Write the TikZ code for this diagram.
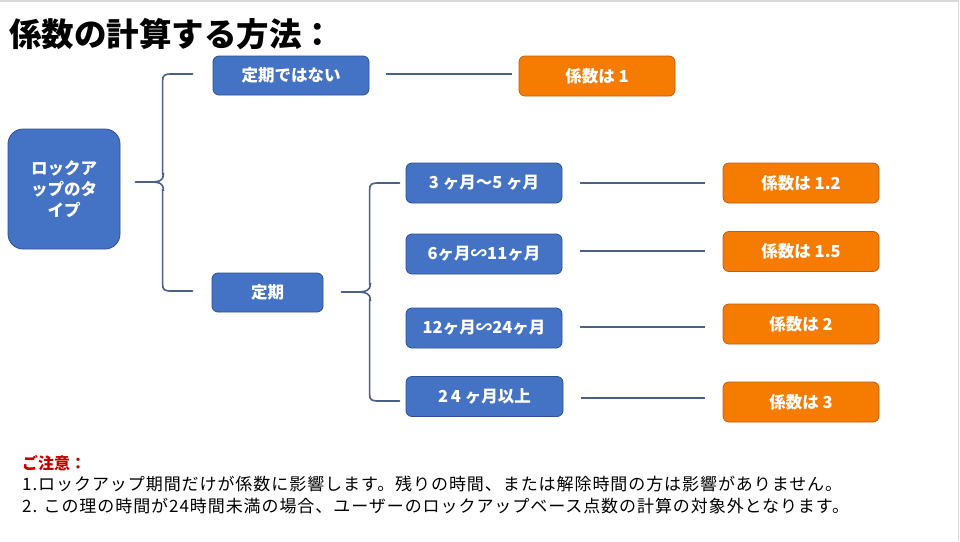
\documentclass[tikz,border=0pt]{standalone}
\usepackage{fontspec}
\setmainfont{Noto Sans CJK JP}
\newfontfamily\notefont{Noto Sans CJK JP}[LetterSpace=5.5]
\usetikzlibrary{calc}
\definecolor{boxblue}{HTML}{4472C4}
\definecolor{boxblueedge}{HTML}{2F528F}
\definecolor{boxorange}{HTML}{F57C00}
\definecolor{boxorangeedge}{HTML}{C55A11}
\definecolor{linkcol}{HTML}{4A5F8A}
\definecolor{notered}{HTML}{C00000}
\definecolor{framegray}{HTML}{D9D9D9}
\tikzset{
  bluebox/.style={draw=boxblueedge, fill=boxblue, text=white, font=\bfseries\fontsize{16.5}{19}\selectfont,
    rounded corners=6pt, minimum width=156pt, minimum height=40pt, inner sep=0pt, line width=0.8pt},
  orangebox/.style={draw=boxorangeedge, fill=boxorange, text=white, font=\bfseries\fontsize{16.5}{19}\selectfont,
    rounded corners=6pt, minimum width=156pt, minimum height=40pt, inner sep=0pt, line width=0.8pt},
  link/.style={draw=linkcol, line width=1.6pt},
  notetext/.style={anchor=base west, inner sep=0pt, font=\notefont\fontsize{17}{20}\selectfont}
}
\begin{document}
\begin{tikzpicture}[x=1pt,y=-1pt]
\useasboundingbox (0,0) rectangle (960,541);
\fill[white] (0,0) rectangle (960,541);
\draw[framegray, line width=1.5pt] (0,1) -- (958.5,1) -- (958.5,541);

% title
\node[anchor=west, inner sep=0pt, font=\bfseries\fontsize{32.5}{38}\selectfont] (title) at (9,34) {係数の計算する方法：};

% nodes
\node[bluebox, minimum width=112pt, minimum height=120pt, rounded corners=15pt, align=center,
  font=\bfseries\fontsize{16.5}{21}\selectfont] (lock) at (64,189) {ロックア\\ップのタ\\イプ};
\node[bluebox, minimum height=39pt] (nt) at (291,75.5) {定期ではない};
\node[orangebox] (r1) at (597,76) {係数は 1};
\node[bluebox, minimum width=111pt, minimum height=39pt] (teiki) at (267.5,292.5) {定期};

\node[bluebox] (a1) at (484,183) {3 ヶ月～5 ヶ月};
\node[bluebox] (a2) at (484,254) {6ヶ月∽11ヶ月};
\node[bluebox] (a3) at (484,328) {12ヶ月∽24ヶ月};
\node[bluebox, minimum width=157pt] (a4) at (484.5,396.5) {2\,4 ヶ月以上};

\node[orangebox] (b1) at (801,183) {係数は 1.2};
\node[orangebox] (b2) at (801,251.5) {係数は 1.5};
\node[orangebox] (b3) at (801,324) {係数は 2};
\node[orangebox] (b4) at (801,402) {係数は 3};

% brace 1
\coordinate (t1) at ($(lock.east)+(15,-7)$);
\coordinate (e1) at ($(nt.west)+(-20,-1.5)$);
\coordinate (e2) at ($(teiki.west)+(-19,-1.5)$);
\draw[link, line cap=round] (e1) -- ++(-21,0) .. controls ++(-7,0) and ++(0,-6) .. ++(-9,7)
  |- ($(t1)+(28,-8)$) .. controls ++(0,6) and ++(10,0) .. ($(t1)+(15,0)$) -- (t1);
\draw[link, line cap=round] (e2) -- ++(-21,0) .. controls ++(-7,0) and ++(0,6) .. ++(-9,-7)
  |- ($(t1)+(28,8)$) .. controls ++(0,-6) and ++(10,0) .. ($(t1)+(15,0)$);

% brace 2
\coordinate (t2) at ($(teiki.east)+(18,-0.5)$);
\coordinate (f1) at ($(a1.west)+(-6,0)$);
\coordinate (f2) at ($(a4.west)+(-6,4.5)$);
\draw[link, line cap=round] (f1) -- ++(-21,0) .. controls ++(-7,0) and ++(0,-6) .. ++(-9,7)
  |- ($(t2)+(29,-8)$) .. controls ++(0,6) and ++(10,0) .. ($(t2)+(15,0)$) -- (t2);
\draw[link, line cap=round] (f2) -- ++(-21,0) .. controls ++(-7,0) and ++(0,6) .. ++(-9,-7)
  |- ($(t2)+(29,8)$) .. controls ++(0,-6) and ++(10,0) .. ($(t2)+(15,0)$);

% connectors
\draw[link] ($(nt.east)+(17,-1.5)$) -- ($(r1.west |- nt.east)+(-7,-1.5)$);
\draw[link] ($(a1.east)+(18,0)$) -- ($(b1.west |- a1.east)+(-18,0)$);
\draw[link] ($(a2.east)+(18,-3)$) -- ($(b2.west |- a2.east)+(-18,-3)$);
\draw[link] ($(a3.east)+(18,-1)$) -- ($(b3.west |- a3.east)+(-18,-1)$);
\draw[link] ($(a4.east)+(18,1.5)$) -- ($(b4.west |- a4.east)+(-18,1.5)$);

% notes
\node[notetext, text=notered, font=\bfseries\fontsize{16}{20}\selectfont] (n0) at (22,469) {ご注意：};
\node[notetext] (n1) at (22,490) {1.ロックアップ期間だけが係数に影響します。残りの時間、または解除時間の方は影響がありません。};
\node[notetext] (n2) at (22,512) {2. この理の時間が24時間未満の場合、ユーザーのロックアップベース点数の計算の対象外となります。};
\end{tikzpicture}
\end{document}
